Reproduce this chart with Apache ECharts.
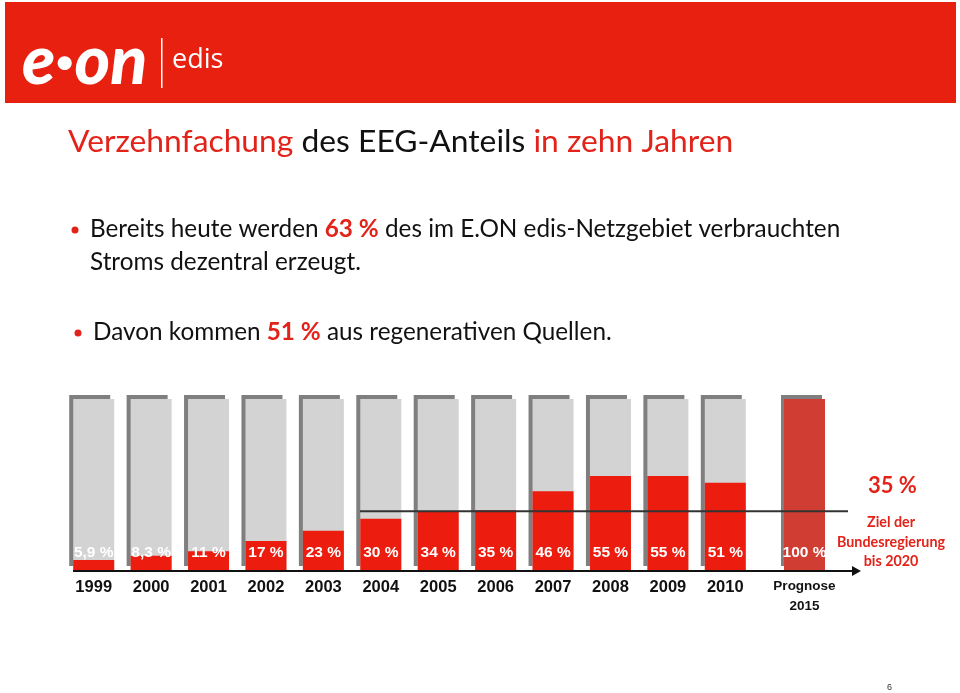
<!DOCTYPE html>
<html><head><meta charset="utf-8">
<script src="https://cdn.jsdelivr.net/npm/echarts@6/dist/echarts.min.js"></script>
<style>html,body{margin:0;padding:0;background:#fff;}#c{width:960px;height:693px;}</style>
</head><body><div id="c"></div>
<script>
// ---- data ----
const years = ['1999','2000','2001','2002','2003','2004','2005','2006','2007','2008','2009','2010'];
const shares = [5.9, 8.3, 11, 17, 23, 30, 34, 35, 46, 55, 55, 51];
const shareLabels = ['5,9 %','8,3 %','11 %','17 %','23 %','30 %','34 %','35 %','46 %','55 %','55 %','51 %'];
const forecastCategory = ['Prognose\n2015'];
const forecastShare = [100];
const forecastLabel = ['100 %'];
const targetShare = 35;
const fullScale = 100;

const RED = '#ec1c0e';
const chart = echarts.init(document.getElementById('c'), null, {renderer: 'canvas'});

const valueLabel = (arr) => ({
  show: true, position: 'insideBottom', distance: 9,
  color: '#fff', fontFamily: 'Liberation Sans', fontWeight: 'bold', fontSize: 15.5,
  formatter: p => arr[p.dataIndex]
});
const bgStyle = {color: '#d3d3d3', shadowColor: '#7f7f7f', shadowBlur: 0, shadowOffsetX: -4, shadowOffsetY: -4};

const option = {
  animation: false,
  grid: [
    {left: 65, top: 399, width: 689, height: 171},
    {left: 776, top: 399, width: 57, height: 171}
  ],
  xAxis: [
    {type: 'category', gridIndex: 0, data: years, axisLine: {show: false}, axisTick: {show: false},
     axisLabel: {margin: 9, color: '#111', fontFamily: 'Liberation Sans', fontWeight: 'bold', fontSize: 16.5}},
    {type: 'category', gridIndex: 1, data: forecastCategory, axisLine: {show: false}, axisTick: {show: false},
     axisLabel: {margin: 6, color: '#111', fontFamily: 'Liberation Sans', fontWeight: 'bold', fontSize: 13.5, lineHeight: 20}}
  ],
  yAxis: [
    {type: 'value', gridIndex: 0, min: 0, max: fullScale, show: false},
    {type: 'value', gridIndex: 1, min: 0, max: fullScale, show: false}
  ],
  series: [
    {type: 'bar', xAxisIndex: 0, yAxisIndex: 0, barWidth: 41, silent: true,
     data: years.map(() => fullScale), itemStyle: bgStyle},
    {type: 'bar', xAxisIndex: 0, yAxisIndex: 0, barWidth: 41, barGap: '-100%',
     data: shares, itemStyle: {color: RED}, label: valueLabel(shareLabels)},
    {type: 'bar', xAxisIndex: 1, yAxisIndex: 1, barWidth: 41,
     data: forecastShare,
     itemStyle: {color: '#cf3d33', shadowColor: '#7f7f7f', shadowBlur: 0, shadowOffsetX: -3, shadowOffsetY: -4},
     label: valueLabel(forecastLabel)}
  ]
};
chart.setOption(option);

const yTarget = chart.convertToPixel({yAxisIndex: 0}, targetShare);
const yZero = chart.convertToPixel({yAxisIndex: 0}, 0);

chart.setOption({
  graphic: [
    {type: 'rect', shape: {x: 5, y: 2, width: 951, height: 101}, style: {fill: '#e8200f'}},
    {type: 'text', left: 22, top: 28, style: {text: 'e·on', fill: '#fff', font: 'italic 900 68px Lato'}},
    {type: 'rect', shape: {x: 161, y: 38, width: 1.5, height: 50}, style: {fill: '#fff'}},
    {type: 'text', left: 172, top: 47, style: {text: 'edis', fill: '#fff', font: '27px "Open Sans"'}},
    {type: 'text', left: 68, top: 126, style: {
      text: '{r|Verzehnfachung }{k|des EEG-Anteils }{r|in zehn Jahren}',
      rich: {r: {fill: '#e2231a', font: '31.8px Lato'}, k: {fill: '#111', font: '31.8px Lato'}}}},
    {type: 'circle', shape: {cx: 75, cy: 230, r: 3.5}, style: {fill: '#e2231a'}},
    {type: 'text', left: 90, top: 217, style: {
      text: '{k|Bereits heute werden }{b|63 %}{k| des im E.ON edis-Netzgebiet verbrauchten}\n{k|Stroms dezentral erzeugt.}',
      rich: {k: {fill: '#111', font: '24.3px Lato', lineHeight: 33}, b: {fill: '#e2231a', font: 'bold 24.3px Lato', lineHeight: 33}}}},
    {type: 'circle', shape: {cx: 78, cy: 333, r: 3.5}, style: {fill: '#e2231a'}},
    {type: 'text', left: 93, top: 320, style: {
      text: '{k|Davon kommen }{b|51 %}{k| aus regenerativen Quellen.}',
      rich: {k: {fill: '#111', font: '24.3px Lato'}, b: {fill: '#e2231a', font: 'bold 24.3px Lato'}}}},
    // axis line with arrow
    {type: 'line', shape: {x1: 73, y1: yZero + 1, x2: 853, y2: yZero + 1}, style: {stroke: '#111', lineWidth: 2}},
    {type: 'polygon', shape: {points: [[852, yZero - 4], [861, yZero + 1], [852, yZero + 6]]}, style: {fill: '#111'}},
    // 35 % target line
    {type: 'line', z: 10, shape: {x1: 360, y1: yTarget + 1, x2: 848, y2: yTarget + 1}, style: {stroke: '#333', lineWidth: 2}},
    {type: 'text', left: 868, top: 475, style: {text: '35 %', fill: '#e2231a', font: 'bold 22px Lato'}},
    {type: 'text', x: 891, y: 513, style: {
      text: 'Ziel der\nBundesregierung\nbis 2020', fill: '#e2231a', font: 'bold 14.3px Lato',
      lineHeight: 19.5, textAlign: 'center'}},
    {type: 'text', left: 887, top: 683, style: {text: '6', fill: '#333', font: '9px "Liberation Sans"'}}
  ]
});
</script>
</body></html>
